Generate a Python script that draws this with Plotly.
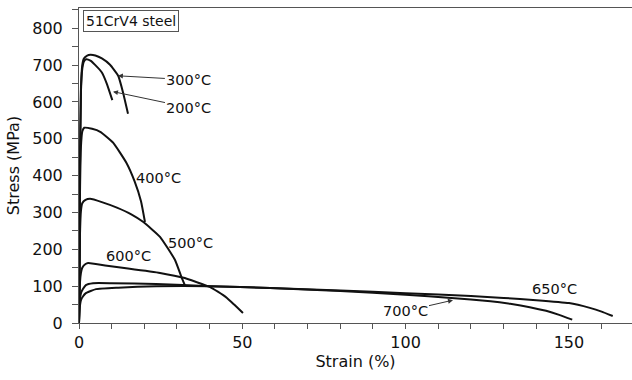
import plotly.graph_objects as go

# ---- data (strain %, stress MPa) ----
s200_x = [0, 0.3, 0.6, 1.0, 1.5, 2.2, 3.5, 5, 7, 8.5, 10.2]
s200_y = [0, 420, 630, 690, 710, 716, 712, 700, 680, 650, 605]

s300_x = [0, 0.3, 0.6, 1.0, 1.5, 2.5, 3.5, 5, 7, 9.5, 12, 13.5, 15]
s300_y = [0, 420, 640, 700, 718, 726, 728, 726, 718, 701, 671, 625, 568]

s400_x = [0, 0.3, 0.6, 1.0, 1.6, 4, 6.5, 10.5, 14.5, 17, 19, 20.2]
s400_y = [0, 350, 480, 520, 530, 527, 519, 489, 435, 385, 330, 274]

s500_x = [0, 0.3, 0.6, 1.0, 2.0, 3.4, 7, 11.6, 16, 19.7, 24.8, 29.4, 31.4, 32.4]
s500_y = [0, 240, 305, 325, 334, 337, 328, 313, 295, 274, 234, 171, 124, 103]

s600_x = [0, 0.3, 0.6, 1.0, 2.0, 2.8, 8, 15, 24.8, 32.4, 36, 40, 42.5, 45.3, 47.5, 50.2]
s600_y = [0, 110, 136, 150, 160, 163, 156, 148, 136, 122, 111, 98, 85, 68, 50, 27]

s650_x = [0, 0.2, 0.6, 1.2, 2.1, 4.3, 10, 23.6, 40, 58.5, 80, 100, 120, 130, 140, 150, 156.4, 160, 163.4]
s650_y = [0, 55, 81, 92, 103, 108, 108, 106, 100, 95, 88, 81, 73, 68, 62, 54, 41, 31, 19]

s700_x = [0, 0.2, 0.6, 1.2, 2.1, 5.2, 12, 23.6, 40, 58.5, 80, 100, 114, 126, 132, 138, 143, 147, 151]
s700_y = [0, 40, 62, 72, 81, 92, 96, 100, 100, 95, 87, 77, 68, 59, 52, 43, 33, 22, 9]

series = [
    ("200°C", s200_x, s200_y),
    ("300°C", s300_x, s300_y),
    ("400°C", s400_x, s400_y),
    ("500°C", s500_x, s500_y),
    ("600°C", s600_x, s600_y),
    ("650°C", s650_x, s650_y),
    ("700°C", s700_x, s700_y),
]

FONT = "DejaVu Sans"

fig = go.Figure()
for name, xs, ys in series:
    fig.add_trace(go.Scatter(x=xs, y=ys, mode="lines", name=name,
                             line=dict(color="#111111", width=2, shape="spline", smoothing=0.4),
                             showlegend=False, hoverinfo="skip"))

ann_font = dict(family=FONT, size=14.5, color="#111111")
arrow = dict(showarrow=True, arrowhead=2, arrowsize=1, arrowwidth=1, arrowcolor="#333333",
             axref="pixel", ayref="pixel")

annotations = [
    dict(x=11.9, y=671, text="300°C", ax=71, ay=4, font=ann_font, **arrow),
    dict(x=10.4, y=628, text="200°C", ax=76, ay=16, font=ann_font, **arrow),
    dict(x=114.5, y=62, text="700°C", ax=-48, ay=11, font=ann_font, **arrow),
    dict(x=24.2, y=394, text="400°C", showarrow=False, font=ann_font),
    dict(x=34, y=217, text="500°C", showarrow=False, font=ann_font),
    dict(x=15, y=182, text="600°C", showarrow=False, font=ann_font),
    dict(x=145.5, y=92, text="650°C", showarrow=False, font=ann_font),
    dict(x=1.2, y=850, text="51CrV4 steel", showarrow=False, xanchor="left", yanchor="top",
         font=dict(family=FONT, size=14, color="#111111"),
         bordercolor="#555555", borderwidth=1, borderpad=2, bgcolor="white"),
]
for a in annotations:
    a.setdefault("xref", "x")
    a.setdefault("yref", "y")
fig.update_layout(annotations=annotations)

fig.update_layout(
    width=632, height=380,
    margin=dict(l=79, r=0, t=8, b=57),
    paper_bgcolor="white", plot_bgcolor="white",
    font=dict(family=FONT, size=16, color="#111111"),
)
fig.update_xaxes(
    range=[0, 169.3], dtick=50, tick0=0, showgrid=False, zeroline=False,
    showline=True, linecolor="#555555", linewidth=1, mirror=True,
    ticks="outside", ticklen=5, tickcolor="#555555",
    minor=dict(dtick=10, ticks="outside", ticklen=5, tickcolor="#555555", showgrid=False),
    title=dict(text="Strain (%)", font=dict(family=FONT, size=16), standoff=3),
    tickfont=dict(family=FONT, size=16),
)
fig.update_yaxes(
    range=[0, 855], dtick=100, tick0=0, showgrid=False, zeroline=False,
    showline=True, linecolor="#555555", linewidth=1,
    ticks="outside", ticklen=6, tickcolor="#555555",
    minor=dict(dtick=50, ticks="outside", ticklen=6, tickcolor="#555555", showgrid=False),
    title=dict(text="Stress (MPa)", font=dict(family=FONT, size=16), standoff=8),
    tickfont=dict(family=FONT, size=16),
    ticklabelstandoff=6,
)

fig.write_html("out.html")
